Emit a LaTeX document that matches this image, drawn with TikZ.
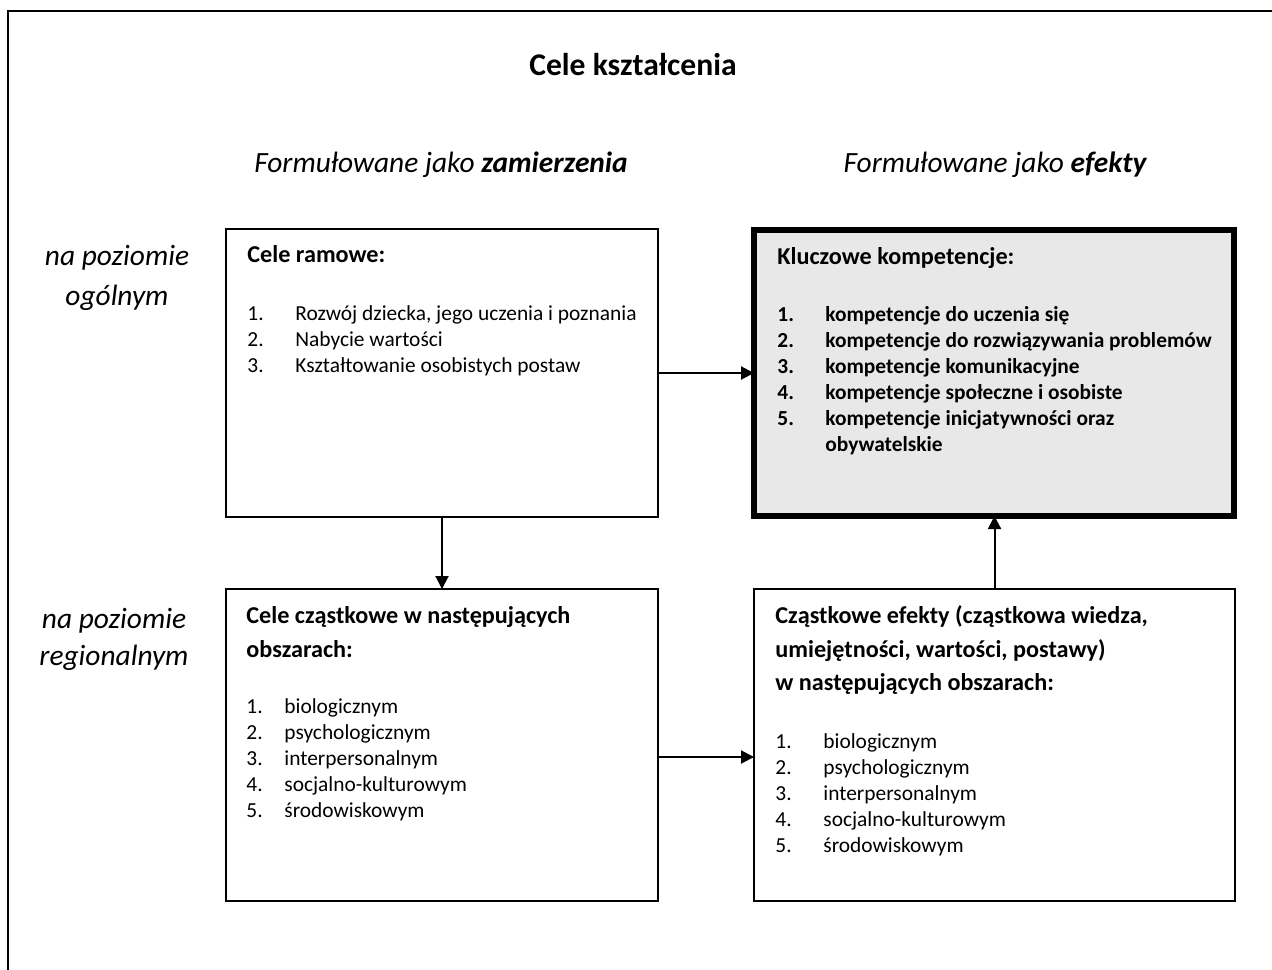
\documentclass[tikz,border=0pt]{standalone}
\usepackage{fontspec}
\setmainfont{Carlito}
\usepackage{xcolor}
\usepackage{tikz}
\usetikzlibrary{arrows.meta, positioning}
\definecolor{keygray}{RGB}{232,232,232}
\tikzstyle{arrow} = [line width=1pt,-{Triangle[length=6.5pt,width=6.5pt]}]
\tikzstyle{goalbox} = [rectangle, draw=black, line width=0.9pt, anchor=north west, inner sep=0pt, outer sep=0pt]
\tikzstyle{keybox} = [goalbox, line width=2.6pt, fill=keygray]
\tikzstyle{txt} = [anchor=base west, inner sep=0pt, font=\fontsize{10.7}{13}\selectfont]
\tikzstyle{boldtxt} = [txt, font=\fontsize{10.7}{13}\selectfont\bfseries]
\tikzstyle{boxhead} = [txt, font=\fontsize{12.1}{14}\selectfont\bfseries]
\tikzstyle{level} = [anchor=base, inner sep=0pt, font=\fontsize{14.7}{17}\selectfont\itshape]

\begin{document}
\begin{tikzpicture}[x=0.5pt, y=-0.5pt]
\useasboundingbox (0,0) rectangle (1272,969);
\clip (0,0) rectangle (1272,969);

% Frame
\node (frame) [goalbox, minimum width=645pt, minimum height=500pt] at (8,11) {};

% Headings
\node (title) [anchor=base, inner sep=0pt, font=\fontsize{15.8}{19}\selectfont\bfseries] at (633,75) {Cele kształcenia};
\node (aims) [level] at (441,172) {Formułowane jako \textbf{zamierzenia}};
\node (effects) [level] at (995,172) {Formułowane jako \textbf{efekty}};
\node (general1) [level] at (117,265) {na poziomie};
\node (general2) [level] at (117,305) {ogólnym};
\node (regional1) [level] at (114,628) {na poziomie};
\node (regional2) [level] at (114,665) {regionalnym};

% Boxes
\node (ramowe) [goalbox, minimum width=216pt, minimum height=144pt] at (226,229) {};
\node (kluczowe) [keybox, minimum width=240pt, minimum height=143pt] at (754,230) {};
\node (czastkowe) [goalbox, minimum width=216pt, minimum height=156pt] at (226,589) {};
\node (efekty) [goalbox, minimum width=240.5pt, minimum height=156pt] at (754,589) {};

% Box texts
\node (ramhead) [boxhead] at (247,262) {Cele ramowe:};
\foreach \t [count=\i] in {{Rozwój dziecka, jego uczenia i poznania}, {Nabycie wartości}, {Kształtowanie osobistych postaw}} {
  \node (ramnum\i) [txt] at (247, 294+26*\i) {\i.};
  \node (ramitem\i) [txt] at (295, 294+26*\i) {\t};
}

\node (keyhead) [boxhead] at (777,264) {Kluczowe kompetencje:};
\foreach \t [count=\i] in {{kompetencje do uczenia się}, {kompetencje do rozwiązywania problemów}, {kompetencje komunikacyjne}, {kompetencje społeczne i osobiste}, {kompetencje inicjatywności oraz}} {
  \node (keynum\i) [boldtxt] at (777, 296+25.8*\i) {\i.};
  \node (keyitem\i) [boldtxt] at (825, 296+25.8*\i) {\t};
}
\node (keyitem6) [boldtxt] at (825,451) {obywatelskie};

\node (parthead1) [boxhead] at (246,623) {Cele cząstkowe w następujących};
\node (parthead2) [boxhead] at (246,657) {obszarach:};
\foreach \t [count=\i] in {biologicznym, psychologicznym, interpersonalnym, socjalno-kulturowym, środowiskowym} {
  \node (partnum\i) [txt] at (246, 688+25.8*\i) {\i.};
  \node (partitem\i) [txt] at (284, 688+25.8*\i) {\t};
}

\node (effhead1) [boxhead] at (775,623) {Cząstkowe efekty (cząstkowa wiedza,};
\node (effhead2) [boxhead] at (775,657) {umiejętności, wartości, postawy)};
\node (effhead3) [boxhead] at (775,690) {w następujących obszarach:};
\foreach \t [count=\i] in {biologicznym, psychologicznym, interpersonalnym, socjalno-kulturowym, środowiskowym} {
  \node (effnum\i) [txt] at (775, 722+26*\i) {\i.};
  \node (effitem\i) [txt] at (823, 722+26*\i) {\t};
}

% Arrows
\draw [arrow] (ramowe) -- (kluczowe);
\draw [arrow] (ramowe) -- (czastkowe);
\draw [arrow] ([yshift=-6pt]czastkowe.east) -- ([yshift=-6pt]efekty.west);
\draw [arrow] (efekty.north) -- (efekty.north |- kluczowe.south);

\end{tikzpicture}
\end{document}
